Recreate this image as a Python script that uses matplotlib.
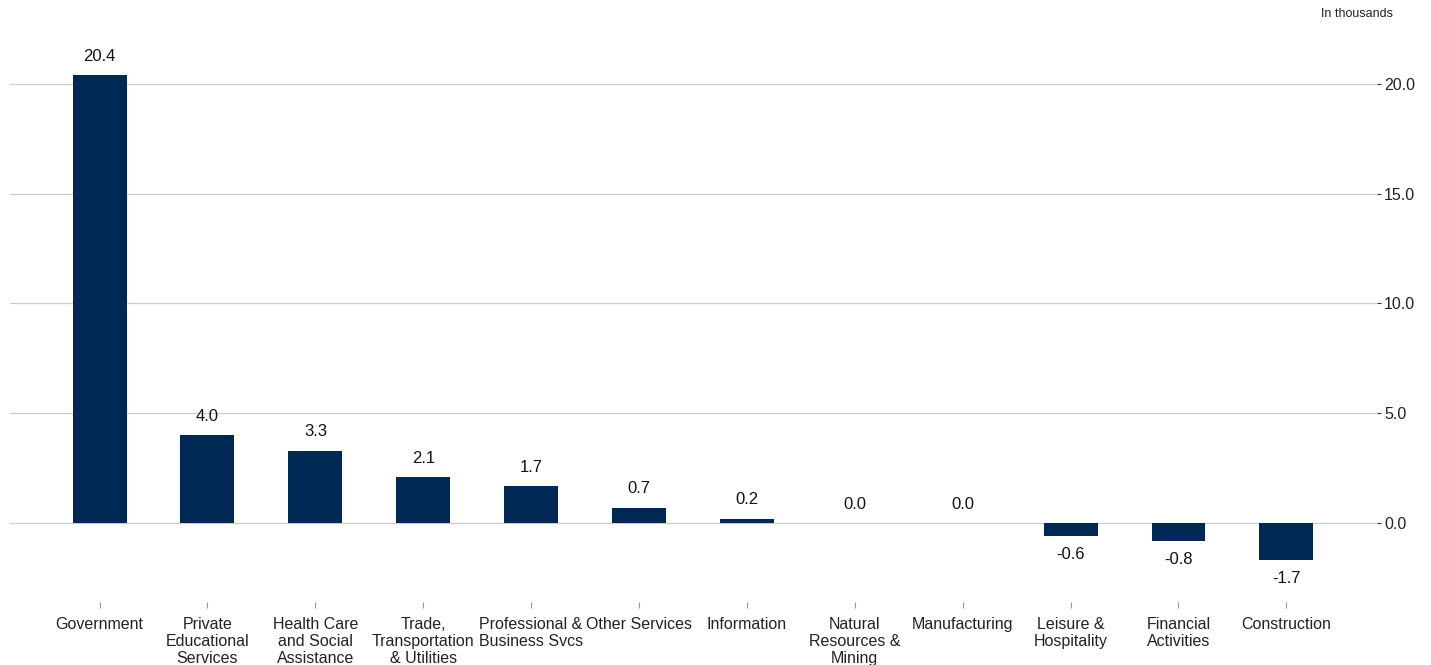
import matplotlib
matplotlib.use("Agg")
import matplotlib.pyplot as plt
import numpy as np

categories = ["Government", "Private\nEducational\nServices", "Health Care\nand Social\nAssistance",
              "Trade,\nTransportation\n& Utilities", "Professional &\nBusiness Svcs", "Other Services",
              "Information", "Natural\nResources &\nMining", "Manufacturing", "Leisure &\nHospitality",
              "Financial\nActivities", "Construction"]
values = [20.4, 4.0, 3.3, 2.1, 1.7, 0.7, 0.2, 0.0, 0.0, -0.6, -0.8, -1.7]
yticks = [0.0, 5.0, 10.0, 15.0, 20.0]

plt.rcParams['font.family'] = ['Liberation Sans', 'DejaVu Sans']
fig = plt.figure(figsize=(14.31, 6.65), dpi=100)
ax = fig.add_axes([10/1431, 1-602/665, 1367/1431, (602-29)/665])
x = np.arange(len(values))
ax.bar(x, values, width=0.5, color="#002855", zorder=3)
ax.set_xlim(-0.83, 11.84)
ax.set_ylim(-3.6, 22.5)
ax.set_yticks(yticks)
ax.set_yticklabels([f"{v:.1f}" for v in yticks])
ax.yaxis.tick_right()
ax.tick_params(axis='y', length=3, width=0.8, color="#333333", labelsize=11.5, pad=2, labelcolor="#222222")
ax.set_xticks(x)
ax.set_xticklabels(categories, fontsize=11.5, linespacing=1.15, color="#222222")
ax.tick_params(axis='x', length=4, width=0.8, color="#999999", pad=7)
ax.grid(axis='y', color="#cccccc", linewidth=0.9, zorder=0)
for s in ax.spines.values():
    s.set_visible(False)
for xi, v in zip(x, values):
    if v >= 0:
        ax.annotate(f"{v:.1f}", (xi, v), xytext=(0, 8), textcoords="offset points",
                    ha="center", va="bottom", fontsize=12, color="#111111")
    else:
        ax.annotate(f"{v:.1f}", (xi, v), xytext=(0, -8), textcoords="offset points",
                    ha="center", va="top", fontsize=12, color="#111111")
fig.text(1393/1431, 1-14/665, "In thousands", ha="right", va="center", fontsize=9, color="#222222")
fig.savefig("out.png", dpi=100)
